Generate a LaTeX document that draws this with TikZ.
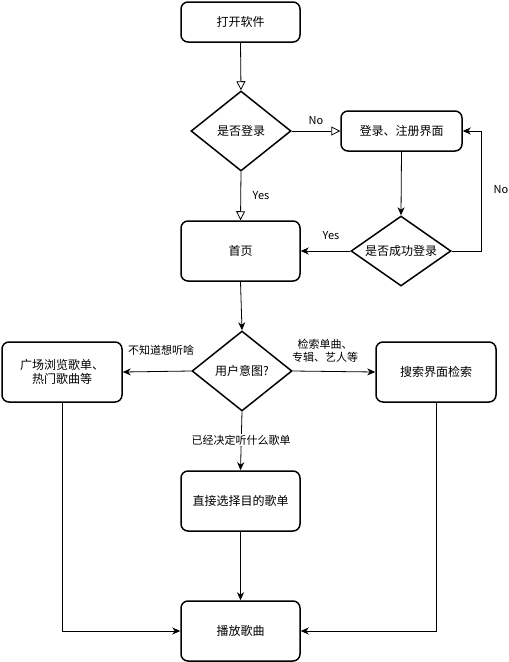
\documentclass[tikz,border=0pt]{standalone}
\usepackage{fontspec}
\setmainfont{Noto Sans CJK SC}
\usetikzlibrary{arrows.meta,shapes.geometric}
\begin{document}
\begin{tikzpicture}[x=1pt,y=-1pt,
  box/.style={draw,line width=1.5pt,rounded corners=7pt,minimum width=119pt,minimum height=40pt,inner sep=0pt,font=\fontsize{12}{14}\selectfont,align=center},
  tallbox/.style={box,minimum height=60pt},
  dia/.style={draw,line width=1.5pt,diamond,aspect=1.25,inner sep=0pt,font=\fontsize{12}{14}\selectfont},
  openarr/.style={-{Triangle[open,length=9pt,width=9pt]},line width=0.8pt},
  arr/.style={-{Stealth[length=8pt,width=7pt,inset=2.5pt]},line width=0.8pt},
  lbl/.style={font=\fontsize{11}{13}\selectfont,align=center,inner sep=0pt}]
\useasboundingbox (0,0) rectangle (509,662);
\node[box] (start) at (240.5,22) {打开软件};
\node[dia,minimum width=100pt,minimum height=80pt] (login) at (241,131) {是否登录};
\node[box,minimum width=121pt] (reg) at (401.5,131) {登录、注册界面};
\node[tallbox] (home) at (240.5,251) {首页};
\node[dia,minimum width=100pt,minimum height=70pt] (succ) at (401,251) {是否成功登录};
\node[dia,minimum width=100pt,minimum height=80pt] (intent) at (242,371) {用户意图?};
\node[tallbox,minimum width=120pt] (browse) at (62,372) {广场浏览歌单、\\热门歌曲等};
\node[tallbox,minimum width=120pt] (search) at (436,372) {搜索界面检索};
\node[tallbox] (pick) at (240.5,501) {直接选择目的歌单};
\node[tallbox] (play) at (240.5,631) {播放歌曲};
\coordinate (c1) at (481,251);
\coordinate (c2) at (481,131);
\coordinate (c3) at (62,631);
\coordinate (c4) at (436,631);

\draw[openarr] (start.south) -- (login.north);
\draw[openarr] (login.east) -- (reg.west);
\draw[openarr] (login.south) -- (home.north);
\draw[arr] (reg.south) -- (succ.north);
\draw[arr] (succ.east) -- (c1) -- (c2) -- (reg.east);
\draw[arr] (succ.west) -- (home.east);
\draw[arr] (home.south) -- (intent.north);
\draw[arr] (intent.west) -- (browse.east);
\draw[arr] (intent.east) -- (search.west);
\draw[arr] (intent.south) -- (pick.north);
\draw[arr] (pick.south) -- (play.north);
\draw[arr] (browse.south) -- (c3) -- (play.west);
\draw[arr] (search.south) -- (c4) -- (play.east);

\node[lbl] (lno1) at (316,121) {No};
\node[lbl] (lyes1) at (261,196) {Yes};
\node[lbl] (lyes2) at (331,236) {Yes};
\node[lbl] (lno2) at (501,190) {No};
\node[lbl] (lq1) at (161,350) {不知道想听啥};
\node[lbl] (lq2) at (325,351) {检索单曲、\\专辑、艺人等};
\node[lbl,fill=white,inner sep=1pt] (lq3) at (241,440) {已经决定听什么歌单};
\end{tikzpicture}
\end{document}
